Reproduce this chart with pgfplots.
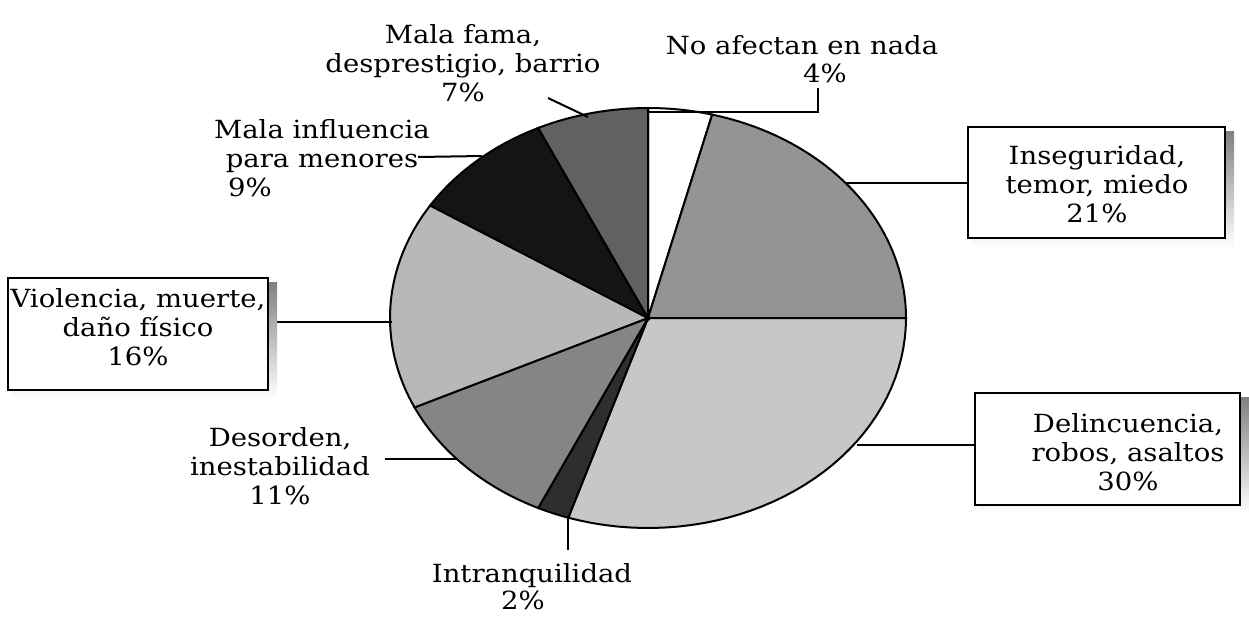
\documentclass[border=0pt]{standalone}
\usepackage{fontspec}
\setmainfont{DejaVu Serif}[FakeStretch=1.1]
\usepackage{pgfplots}
\pgfplotsset{compat=1.18}

\definecolor{cNo}{gray}{1.0}
\definecolor{cIns}{gray}{0.58}
\definecolor{cDel}{gray}{0.78}
\definecolor{cIntr}{gray}{0.18}
\definecolor{cDes}{gray}{0.52}
\definecolor{cVio}{gray}{0.72}
\definecolor{cInf}{gray}{0.08}
\definecolor{cFama}{gray}{0.38}
\definecolor{shade}{gray}{0.25}

% one wedge of the (stretched) pie, from cumulative share #1 to #2 (percent)
\newcommand{\slice}[3]{%
  \addplot[draw=black, line width=0.8pt, fill=#3, domain=#1:#2, samples=40]
    ({648+258*sin(3.6*x)}, {318-210*cos(3.6*x)}) -- (axis cs:648,318) -- cycle;}

\begin{document}
\begin{tikzpicture}[font=\fontsize{10pt}{11.5pt}\selectfont]
\begin{axis}[
    x=0.4pt, y=0.4pt,
    xmin=0, xmax=1249, ymin=0, ymax=608,
    y dir=reverse,
    hide axis, clip=false,
]
% keep the whole frame as the picture's size
\path (axis cs:0,0) rectangle (axis cs:1249,608);

% shares: 4, 21, 30, 2, 11, 16, 9, 7
\slice{0}{4}{cNo}
\slice{4}{25}{cIns}
\slice{25}{55}{cDel}
\slice{55}{57}{cIntr}
\slice{57}{68}{cDes}
\slice{68}{84}{cVio}
\slice{84}{93}{cInf}
\slice{93}{100}{cFama}

% leader lines
\draw[line width=0.8pt] (axis cs:548,98) -- (axis cs:588,117);
\draw[line width=0.8pt] (axis cs:648,112) -- (axis cs:818,112) -- (axis cs:818,88);
\draw[line width=0.8pt] (axis cs:418,157) -- (axis cs:482,156);
\draw[line width=0.8pt] (axis cs:845,183) -- (axis cs:968,183);
\draw[line width=0.8pt] (axis cs:268,322) -- (axis cs:392,322);
\draw[line width=0.8pt] (axis cs:857,445) -- (axis cs:975,445);
\draw[line width=0.8pt] (axis cs:385,459) -- (axis cs:457,459);
\draw[line width=0.8pt] (axis cs:568,518) -- (axis cs:568,550);

% boxed labels with shadows
\fill[shade] (axis cs:972,131) rectangle (axis cs:1234,247);
\draw[line width=0.8pt, fill=white] (axis cs:968,127) rectangle (axis cs:1225,238);
\fill[shade] (axis cs:12,282) rectangle (axis cs:277,399);
\draw[line width=0.8pt, fill=white] (axis cs:8,278) rectangle (axis cs:268,390);
\fill[shade] (axis cs:979,397) rectangle (axis cs:1249,514);
\draw[line width=0.8pt, fill=white] (axis cs:975,393) rectangle (axis cs:1240,505);

\node[align=center] at (axis cs:1097,184) {Inseguridad,\\temor, miedo\\21\%};
\node[align=center] at (axis cs:138,327) {Violencia, muerte,\\daño físico\\16\%};
\node[align=center] at (axis cs:1128,452) {Delincuencia,\\robos, asaltos\\30\%};

% free labels
\node[align=center] at (axis cs:463,63) {Mala fama,\\desprestigio, barrio\\7\%};
\node at (axis cs:802,45) {No afectan en nada};
\node at (axis cs:825,73) {4\%};
\node[align=center] at (axis cs:322,146) {Mala influencia\\para menores};
\node at (axis cs:250,187) {9\%};
\node[align=center] at (axis cs:280,466) {Desorden,\\inestabilidad\\11\%};
\node at (axis cs:532,576) {Intranquilidad};
\node at (axis cs:523,600) {2\%};
\end{axis}
\end{tikzpicture}
\end{document}
